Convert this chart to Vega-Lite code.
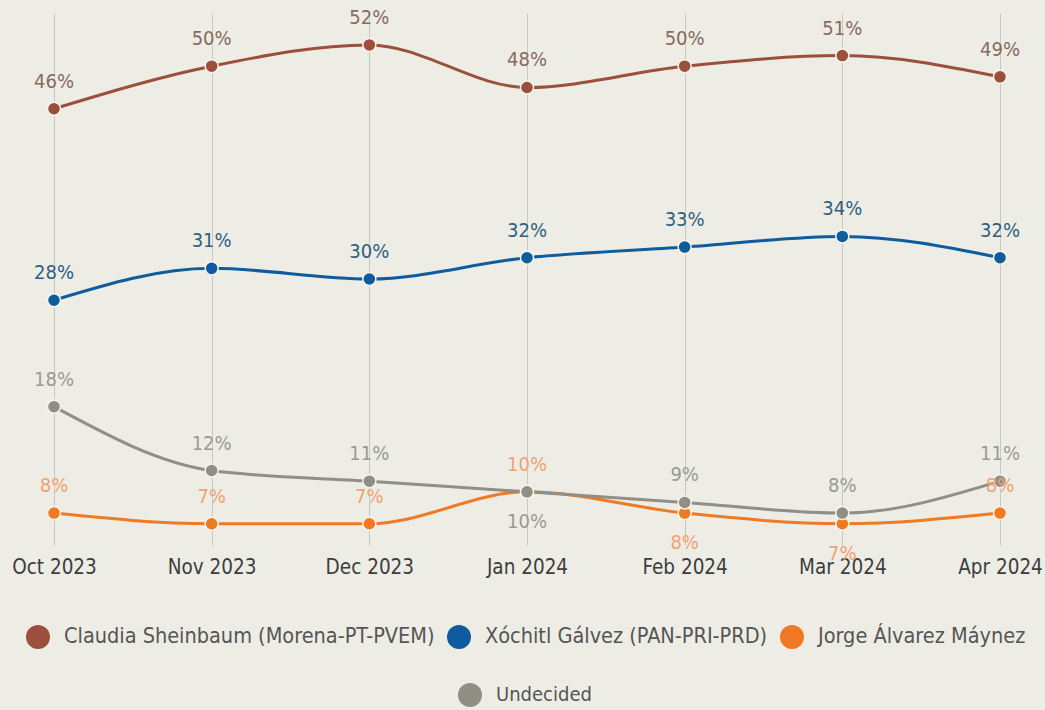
{
  "$schema": "https://vega.github.io/schema/vega-lite/v6.json",
  "width": 946,
  "height": 532,
  "autosize": {"type": "none"},
  "padding": {"left": 54, "top": 13, "right": 45, "bottom": 165},
  "background": "#eeede5",
  "config": {
    "view": {"stroke": null},
    "font": "DejaVu Sans Condensed, Liberation Sans Narrow, Open Sans, sans-serif"
  },
  "data": {
    "values": [
      {"month": "Oct 2023", "series": "Claudia Sheinbaum (Morena-PT-PVEM)", "value": 46},
      {"month": "Nov 2023", "series": "Claudia Sheinbaum (Morena-PT-PVEM)", "value": 50},
      {"month": "Dec 2023", "series": "Claudia Sheinbaum (Morena-PT-PVEM)", "value": 52},
      {"month": "Jan 2024", "series": "Claudia Sheinbaum (Morena-PT-PVEM)", "value": 48},
      {"month": "Feb 2024", "series": "Claudia Sheinbaum (Morena-PT-PVEM)", "value": 50},
      {"month": "Mar 2024", "series": "Claudia Sheinbaum (Morena-PT-PVEM)", "value": 51},
      {"month": "Apr 2024", "series": "Claudia Sheinbaum (Morena-PT-PVEM)", "value": 49},
      {"month": "Oct 2023", "series": "Xóchitl Gálvez (PAN-PRI-PRD)", "value": 28},
      {"month": "Nov 2023", "series": "Xóchitl Gálvez (PAN-PRI-PRD)", "value": 31},
      {"month": "Dec 2023", "series": "Xóchitl Gálvez (PAN-PRI-PRD)", "value": 30},
      {"month": "Jan 2024", "series": "Xóchitl Gálvez (PAN-PRI-PRD)", "value": 32},
      {"month": "Feb 2024", "series": "Xóchitl Gálvez (PAN-PRI-PRD)", "value": 33},
      {"month": "Mar 2024", "series": "Xóchitl Gálvez (PAN-PRI-PRD)", "value": 34},
      {"month": "Apr 2024", "series": "Xóchitl Gálvez (PAN-PRI-PRD)", "value": 32},
      {"month": "Oct 2023", "series": "Jorge Álvarez Máynez", "value": 8},
      {"month": "Nov 2023", "series": "Jorge Álvarez Máynez", "value": 7},
      {"month": "Dec 2023", "series": "Jorge Álvarez Máynez", "value": 7},
      {"month": "Jan 2024", "series": "Jorge Álvarez Máynez", "value": 10},
      {"month": "Feb 2024", "series": "Jorge Álvarez Máynez", "value": 8},
      {"month": "Mar 2024", "series": "Jorge Álvarez Máynez", "value": 7},
      {"month": "Apr 2024", "series": "Jorge Álvarez Máynez", "value": 8},
      {"month": "Oct 2023", "series": "Undecided", "value": 18},
      {"month": "Nov 2023", "series": "Undecided", "value": 12},
      {"month": "Dec 2023", "series": "Undecided", "value": 11},
      {"month": "Jan 2024", "series": "Undecided", "value": 10},
      {"month": "Feb 2024", "series": "Undecided", "value": 9},
      {"month": "Mar 2024", "series": "Undecided", "value": 8},
      {"month": "Apr 2024", "series": "Undecided", "value": 11}
    ]
  },
  "transform": [
    {"calculate": "datum.series", "as": "series2"},
    {"calculate": "datum.value + '%'", "as": "label"}
  ],
  "encoding": {
    "x": {
      "field": "month",
      "type": "ordinal",
      "sort": ["Oct 2023", "Nov 2023", "Dec 2023", "Jan 2024", "Feb 2024", "Mar 2024", "Apr 2024"],
      "scale": {"type": "point", "padding": 0},
      "axis": {
        "title": null,
        "labelAngle": 0,
        "domain": false,
        "ticks": false,
        "tickSize": 0,
        "labelPadding": 12,
        "labelFontSize": 20.5,
        "labelColor": "#3d3d3d",
        "grid": true,
        "gridColor": "#c9c8c0",
        "gridWidth": 1
      }
    },
    "y": {
      "field": "value",
      "type": "quantitative",
      "scale": {"domain": [5, 55], "nice": false, "zero": false},
      "axis": null
    }
  },
  "layer": [
    {
      "mark": {"type": "line", "interpolate": "monotone", "strokeWidth": 3},
      "encoding": {
        "stroke": {
          "field": "series2",
          "type": "nominal",
          "scale": {"range": ["#9c4f3c", "#f07a23", "#8f8f86", "#0e5c9e"]},
          "legend": {
            "values": ["Undecided"],
            "title": null,
            "orient": "none",
            "legendX": 404,
            "legendY": 670,
            "padding": 0,
            "symbolType": "circle",
            "symbolSize": 576,
            "symbolFillColor": "#8f8f86",
            "symbolStrokeWidth": 0,
            "labelOffset": 14,
            "labelFontSize": 20,
            "labelLimit": 0,
            "labelColor": "#555555",
            "direction": "horizontal"
          }
        }
      }
    },
    {
      "mark": {"type": "point", "filled": true, "size": 170, "stroke": "#f6f4ec", "strokeWidth": 1.5, "opacity": 1},
      "encoding": {
        "fill": {
          "field": "series",
          "type": "nominal",
          "scale": {
            "domain": ["Claudia Sheinbaum (Morena-PT-PVEM)", "Xóchitl Gálvez (PAN-PRI-PRD)", "Jorge Álvarez Máynez", "Undecided"],
            "range": ["#9c4f3c", "#0e5c9e", "#f07a23", "#8f8f86"]
          },
          "legend": {
            "values": ["Claudia Sheinbaum (Morena-PT-PVEM)", "Xóchitl Gálvez (PAN-PRI-PRD)", "Jorge Álvarez Máynez"],
            "title": null,
            "orient": "none",
            "legendX": -28,
            "legendY": 612,
            "padding": 0,
            "symbolType": "circle",
            "symbolSize": 576,
            "symbolStrokeWidth": 0,
            "labelOffset": 14,
            "labelFontSize": 21.5,
            "labelLimit": 0,
            "labelColor": "#555555",
            "columnPadding": 12,
            "direction": "horizontal"
          }
        }
      }
    },
    {
      "transform": [
        {"filter": "!((datum.series === 'Undecided' && datum.month === 'Jan 2024') || (datum.series === 'Jorge Álvarez Máynez' && (datum.month === 'Feb 2024' || datum.month === 'Mar 2024')))"}
      ],
      "mark": {"type": "text", "baseline": "middle", "dy": -27, "fontSize": 20},
      "encoding": {
        "text": {"field": "label"},
        "color": {
          "field": "series",
          "type": "nominal",
          "scale": {
            "domain": ["Claudia Sheinbaum (Morena-PT-PVEM)", "Xóchitl Gálvez (PAN-PRI-PRD)", "Jorge Álvarez Máynez", "Undecided"],
            "range": ["#876a60", "#2f5f82", "#f0a272", "#9a9a91"]
          },
          "legend": null
        }
      }
    },
    {
      "transform": [
        {"filter": "(datum.series === 'Undecided' && datum.month === 'Jan 2024') || (datum.series === 'Jorge Álvarez Máynez' && (datum.month === 'Feb 2024' || datum.month === 'Mar 2024'))"}
      ],
      "mark": {"type": "text", "baseline": "middle", "dy": 30, "fontSize": 20},
      "encoding": {
        "text": {"field": "label"},
        "color": {
          "field": "series",
          "type": "nominal",
          "scale": {
            "domain": ["Claudia Sheinbaum (Morena-PT-PVEM)", "Xóchitl Gálvez (PAN-PRI-PRD)", "Jorge Álvarez Máynez", "Undecided"],
            "range": ["#876a60", "#2f5f82", "#f0a272", "#9a9a91"]
          },
          "legend": null
        }
      }
    }
  ]
}
